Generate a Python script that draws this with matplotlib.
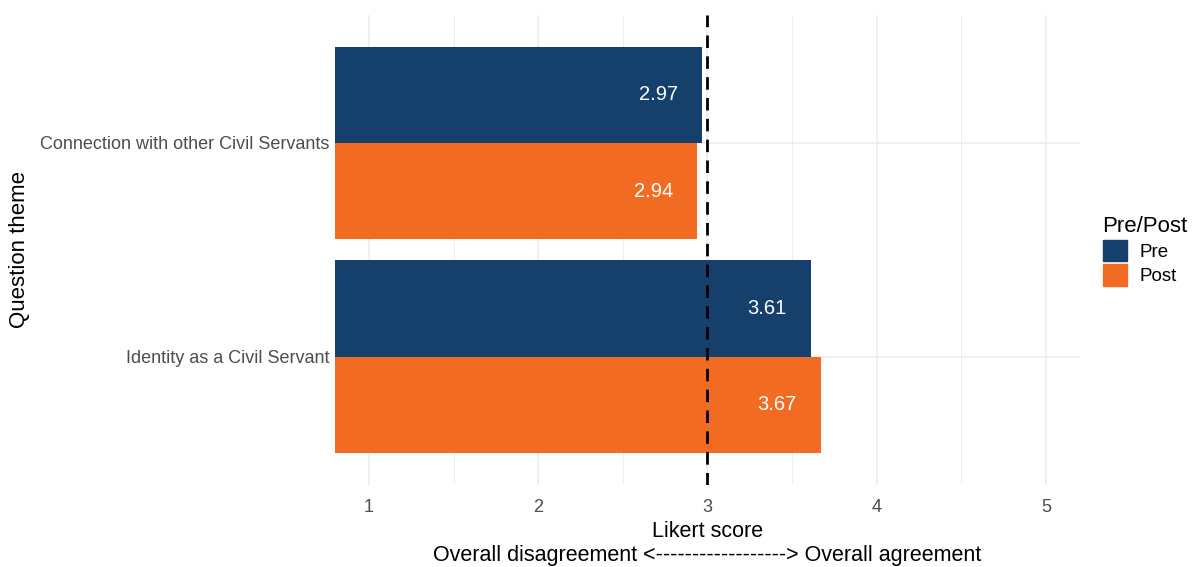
import matplotlib.pyplot as plt
from matplotlib.patches import Patch
import numpy as np

# survey results, one entry per question theme (bottom to top)
themes = ["Identity as a Civil Servant", "Connection with other Civil Servants"]
pre_scores = [3.61, 2.97]
post_scores = [3.67, 2.94]
groups = ["Pre", "Post"]
x_ticks = [1, 2, 3, 4, 5]

NAVY = "#15406b"
ORANGE = "#f26b23"
GRID = "#ebebeb"
TEXT = "#4d4d4d"

plt.rcParams["font.family"] = ["Liberation Sans", "DejaVu Sans"]

fig = plt.figure(figsize=(12.01, 5.67), dpi=100)
ax = fig.add_axes([0.279, 0.145, 0.620, 0.829])

y = np.arange(len(themes)) + 1
h = 0.45

ax.barh(y + h / 2, pre_scores, height=h, color=NAVY, zorder=2)
ax.barh(y - h / 2, post_scores, height=h, color=ORANGE, zorder=2)

# value labels sit inside the end of each bar
for yi, v in zip(y + h / 2, pre_scores):
    ax.text(v - 0.26, yi, f"{v:.2f}", color="white", ha="center", va="center",
            fontsize=14.5, zorder=4)
for yi, v in zip(y - h / 2, post_scores):
    ax.text(v - 0.26, yi, f"{v:.2f}", color="white", ha="center", va="center",
            fontsize=14.5, zorder=4)

# neutral point of the scale
ax.axvline(3, color="black", linestyle=(0, (4.5, 3)), linewidth=2, zorder=3)

ax.set_xlim(0.8, 5.2)
ax.set_ylim(0.4, 2.6)
ax.set_xticks(x_ticks)
ax.set_xticks([1.5, 2.5, 3.5, 4.5], minor=True)
ax.set_yticks(y)
ax.set_yticklabels(themes)

ax.grid(True, which="major", color=GRID, linewidth=1.1, zorder=0)
ax.grid(True, which="minor", axis="x", color=GRID, linewidth=0.6, zorder=0)
ax.set_axisbelow(True)
for s in ax.spines.values():
    s.set_visible(False)
ax.tick_params(which="both", length=0)
ax.tick_params(axis="x", labelsize=13, colors=TEXT, pad=10)
ax.tick_params(axis="y", labelsize=13, colors=TEXT, pad=4)

ax.set_xlabel("Likert score\nOverall disagreement <------------------> Overall agreement",
              fontsize=15.5, color="black", labelpad=4, linespacing=1.2)
ax.set_ylabel("Question theme", fontsize=16, color="black")
ax.yaxis.set_label_coords(-0.41, 0.5)

handles = [Patch(color=NAVY), Patch(color=ORANGE)]
leg = fig.legend(handles, groups, title="Pre/Post", loc="center left",
                 bbox_to_anchor=(0.918, 0.558), frameon=False, fontsize=13.5,
                 title_fontsize=16, handlelength=1.28, handleheight=1.35,
                 handletextpad=0.7, labelspacing=0.18, borderpad=0,
                 borderaxespad=0)
leg._legend_box.align = "left"

fig.savefig("out.png", dpi=100, facecolor="white")
